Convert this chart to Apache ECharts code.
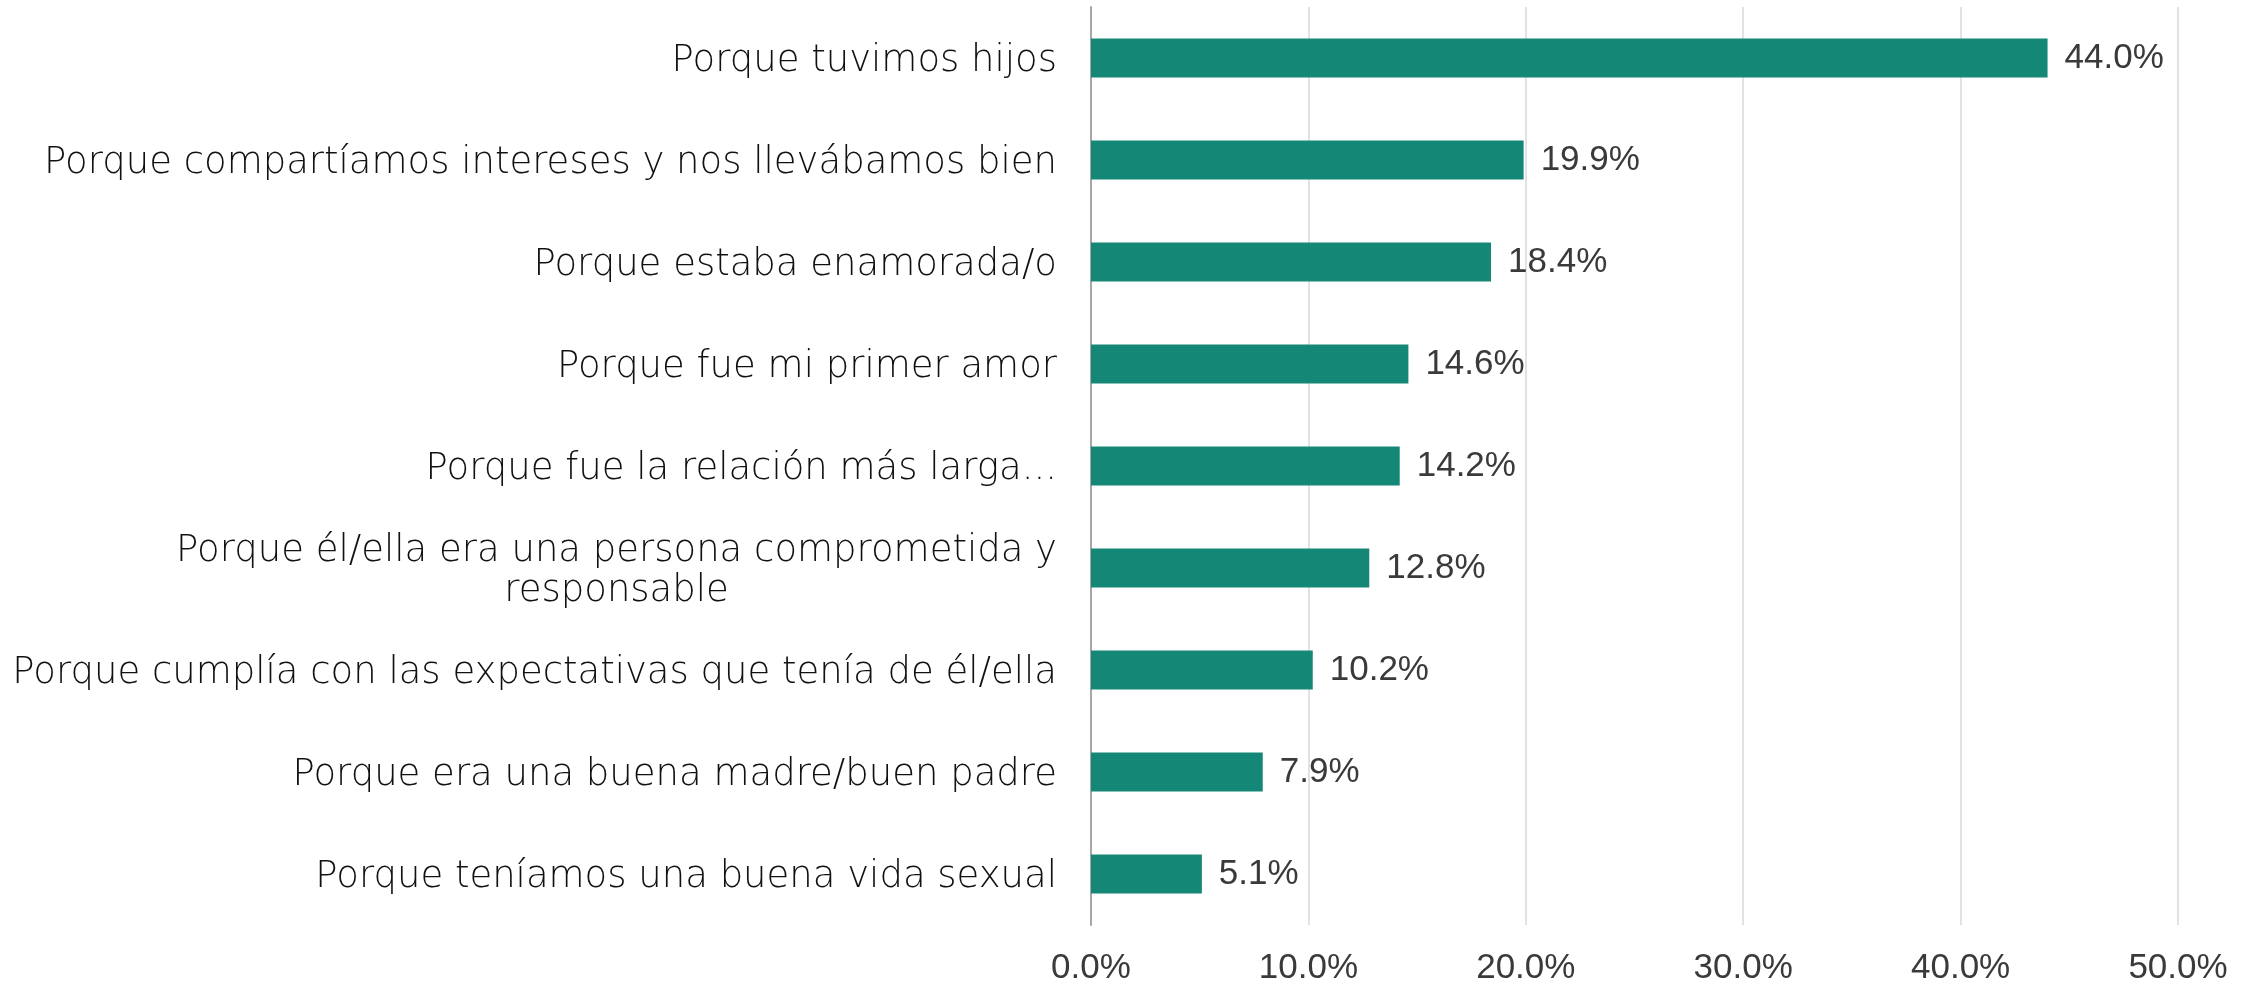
<!DOCTYPE html>
<html>
<head>
    <meta charset="UTF-8">
    <title>Razones</title>
    <style>
        html, body {
            margin: 0;
            padding: 0;
            background: #ffffff;
        }

        #chart {
            width: 2248px;
            height: 989px;
        }
    </style>
    <script src="https://cdn.jsdelivr.net/npm/echarts@6/dist/echarts.min.js"></script>
</head>
<body>
<div id="chart"></div>
<script>
    var categories = [
        'Porque tuvimos hijos',
        'Porque compartíamos intereses y nos llevábamos bien',
        'Porque estaba enamorada/o',
        'Porque fue mi primer amor',
        'Porque fue la relación más larga...',
        'Porque él/ella era una persona comprometida y\nresponsable',
        'Porque cumplía con las expectativas que tenía de él/ella',
        'Porque era una buena madre/buen padre',
        'Porque teníamos una buena vida sexual'
    ];
    var values = [44.0, 19.9, 18.4, 14.6, 14.2, 12.8, 10.2, 7.9, 5.1];
    var xTicks = [0, 10, 20, 30, 40, 50];

    var font = 'DejaVu Sans';
    var numFont = 'Liberation Sans';
    var textColor = '#3a3a3a';

    var chart = echarts.init(document.getElementById('chart'), null, {renderer: 'canvas'});
    chart.setOption({
        animation: false,
        backgroundColor: '#ffffff',
        grid: {left: 1091, right: 70, top: 7, bottom: 64, outerBoundsMode: 'none'},
        xAxis: {
            type: 'value',
            min: xTicks[0],
            max: xTicks[xTicks.length - 1],
            interval: 10,
            axisLine: {show: false},
            axisTick: {show: false},
            splitLine: {lineStyle: {color: '#d9d9d9', width: 1.5}},
            axisLabel: {
                margin: 26,
                fontFamily: numFont,
                fontSize: 35,
                color: textColor,
                formatter: function (v) {
                    return v.toFixed(1) + '%';
                }
            }
        },
        yAxis: {
            type: 'category',
            inverse: true,
            data: categories,
            axisLine: {lineStyle: {color: '#a6a6a6', width: 2}},
            axisTick: {length: 10, lineStyle: {color: '#a6a6a6', width: 2}},
            axisLabel: {
                margin: 34,
                fontFamily: font,
                fontSize: 37,
                color: '#111111',
                lineHeight: 40,
                formatter: function (v) {
                    return v.split('\n').map(function (s) {
                        return '{c|' + s + '}';
                    }).join('\n');
                },
                rich: {
                    c: {
                        align: 'center',
                        fontFamily: font,
                        fontWeight: 200,
                        fontSize: 37,
                        color: '#111111',
                        lineHeight: 40,
                        padding: [6, 0, 0, 0]
                    }
                }
            }
        },
        series: [{
            type: 'bar',
            data: values,
            barWidth: 39,
            itemStyle: {color: '#158776'},
            label: {
                show: true,
                position: 'right',
                distance: 17,
                fontFamily: numFont,
                fontSize: 35,
                color: textColor,
                padding: [6, 0, 0, 0],
                formatter: function (p) {
                    return p.value.toFixed(1) + '%';
                }
            }
        }]
    });
</script>
</body>
</html>
